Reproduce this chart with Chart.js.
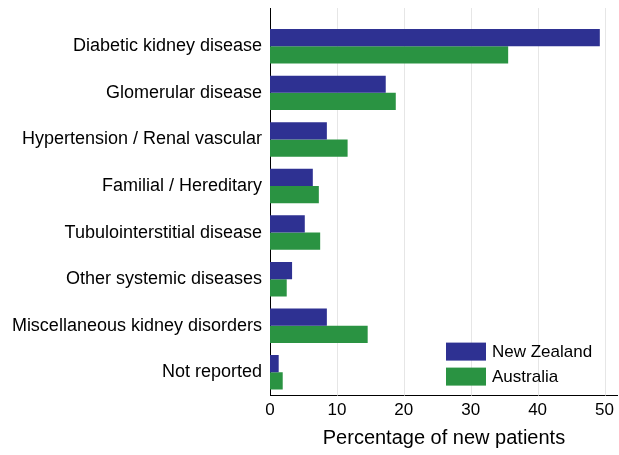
<!DOCTYPE html>
<html>
<head>
<meta charset="utf-8">
<script src="https://cdn.jsdelivr.net/npm/chart.js@4"></script>
<style>
  html, body { margin: 0; padding: 0; background: #fff; }
  #wrap { width: 619px; height: 455px; }
</style>
</head>
<body>
<div id="wrap"><canvas id="c"></canvas></div>
<script>
// category labels and series values (% of new patients)
const categories = [
  'Diabetic kidney disease', 'Glomerular disease', 'Hypertension / Renal vascular',
  'Familial / Hereditary', 'Tubulointerstitial disease', 'Other systemic diseases',
  'Miscellaneous kidney disorders', 'Not reported'
];
const newZealand = [49.3, 17.3, 8.5, 6.4, 5.2, 3.3, 8.5, 1.3];
const australia  = [35.6, 18.8, 11.6, 7.3, 7.5, 2.5, 14.6, 1.9];
const xTicks = [0, 10, 20, 30, 40, 50];

const navy  = '#2e3192';
const green = '#2a9342';
const font  = 'Liberation Sans, Arial, sans-serif';
const axisTop = 8;

// grid lines and y axis line reach above the first category
const frame = {
  id: 'frame',
  beforeDatasetsDraw(chart) {
    const { ctx, chartArea, scales } = chart;
    ctx.save();
    ctx.lineWidth = 1;
    ctx.strokeStyle = '#e6e6e6';
    xTicks.slice(1).forEach(v => {
      const x = Math.round(scales.x.getPixelForValue(v)) + 0.5;
      ctx.beginPath(); ctx.moveTo(x, axisTop); ctx.lineTo(x, chartArea.bottom); ctx.stroke();
    });
    ctx.strokeStyle = '#000';
    const x0 = Math.round(chartArea.left) + 0.5;
    ctx.beginPath(); ctx.moveTo(x0, axisTop); ctx.lineTo(x0, chartArea.bottom); ctx.stroke();
    ctx.restore();
  }
};

// legend drawn inside the plot, bottom right
const insideLegend = {
  id: 'insideLegend',
  afterDraw(chart) {
    const { ctx, chartArea } = chart;
    const x = 446, y0 = chartArea.bottom - 53;
    ctx.save();
    ctx.font = '17px ' + font;
    ctx.textBaseline = 'middle';
    chart.data.datasets.forEach((ds, i) => {
      const y = y0 + i * 25;
      ctx.fillStyle = ds.backgroundColor;
      ctx.fillRect(x, y, 40, 18);
      ctx.fillStyle = '#000';
      ctx.fillText(ds.label, x + 46, y + 10);
    });
    ctx.restore();
  }
};

new Chart(document.getElementById('c'), {
  type: 'bar',
  data: {
    labels: categories,
    datasets: [
      { label: 'New Zealand', data: newZealand, backgroundColor: navy },
      { label: 'Australia', data: australia, backgroundColor: green }
    ]
  },
  options: {
    indexAxis: 'y', responsive: true, maintainAspectRatio: false, animation: false,
    datasets: { bar: { categoryPercentage: 0.74, barPercentage: 1 } },
    layout: { padding: { top: 23, right: 1, bottom: 1 } },
    plugins: { legend: { display: false }, tooltip: { enabled: false } },
    scales: {
      x: {
        min: 0, max: 52,
        afterBuildTicks: s => { s.ticks = xTicks.map(v => ({ value: v })); },
        grid: { display: false, drawTicks: false },
        border: { color: '#000', width: 1 },
        ticks: { color: '#000', font: { family: font, size: 17 }, padding: 5 },
        title: { display: true, text: 'Percentage of new patients', color: '#000',
                 font: { family: font, size: 20 }, padding: { top: 0 } }
      },
      y: {
        afterFit: s => { s.width = 270; },
        grid: { display: false },
        border: { display: false },
        ticks: { color: '#000', font: { family: font, size: 18 }, padding: 0 }
      }
    }
  },
  plugins: [frame, insideLegend]
});
</script>
</body>
</html>
